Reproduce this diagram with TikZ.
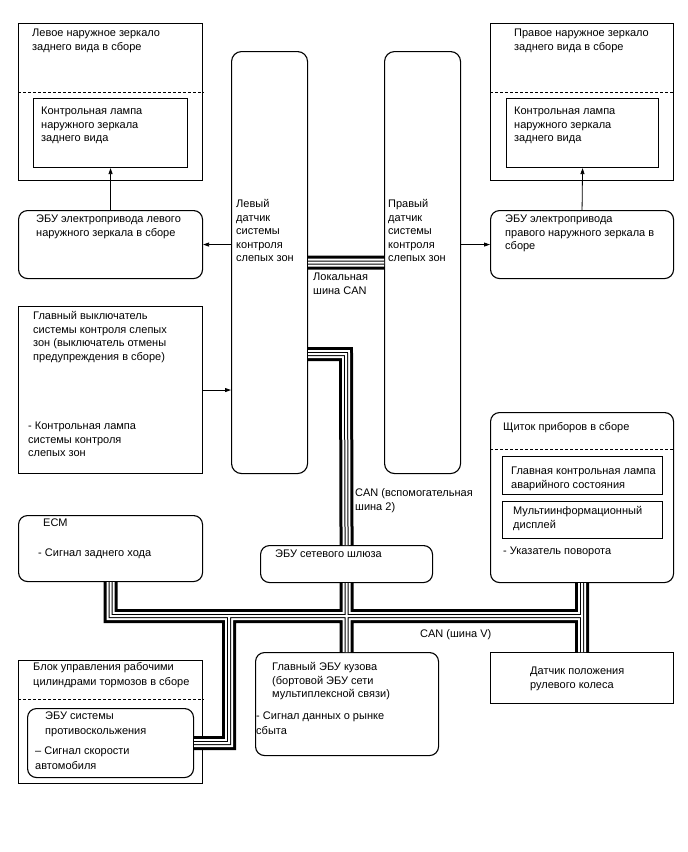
\documentclass[tikz,border=0pt]{standalone}
\usepackage{fontspec}
\setmainfont{Liberation Sans}
\usetikzlibrary{positioning,arrows.meta,calc}

\begin{document}
\begin{tikzpicture}[x=1pt,y=-1pt,
  box/.style={draw, line width=1.1pt, anchor=north west, inner sep=0pt},
  rbox/.style={box, rounded corners=9pt},
  txt/.style={anchor=north west, inner sep=0pt, align=left, font=\fontsize{11}{13.5}\selectfont},
  sep/.style={line width=0.6pt, dash pattern=on 3pt off 2pt},
  arr/.style={-{Triangle[length=6pt,width=4pt]}, line width=0.8pt}]
  \useasboundingbox (0,0) rectangle (688,852);

  \node[box, minimum width=184pt, minimum height=157pt] (lmir) at (18,23) {};
  \node[box, minimum width=154pt, minimum height=69pt] (llamp) at (33,98) {};
  \node[rbox, minimum width=184pt, minimum height=68pt] (lecu) at (18,210) {};
  \node[rbox, rounded corners=10pt, minimum width=76pt, minimum height=422pt] (lbsm) at (231,51) {};
  \node[rbox, rounded corners=10pt, minimum width=76pt, minimum height=422pt] (rbsm) at (384,51) {};
  \node[box, minimum width=183pt, minimum height=157pt] (rmir) at (490,23) {};
  \node[box, minimum width=152pt, minimum height=69pt] (rlamp) at (506,98) {};
  \node[rbox, minimum width=183pt, minimum height=68pt] (recu) at (490,210) {};
  \node[box, minimum width=184pt, minimum height=167pt] (msw) at (18,306) {};
  \node[rbox, minimum width=183pt, minimum height=170pt] (clu) at (490,412) {};
  \node[box, minimum width=160pt, minimum height=38pt] (cluA) at (502,456) {};
  \node[box, minimum width=160pt, minimum height=37pt] (cluB) at (502,501) {};
  \node[rbox, minimum width=184pt, minimum height=66pt] (ecm) at (18,515) {};
  \node[rbox, minimum width=172pt, minimum height=37pt] (gw) at (260,545) {};
  \node[box, minimum width=184pt, minimum height=123pt] (brk) at (18,660) {};
  \node[rbox, minimum width=166pt, minimum height=69pt] (abs) at (27,708) {};
  \node[rbox, minimum width=183pt, minimum height=103pt] (body) at (255,652) {};
  \node[box, minimum width=183pt, minimum height=51pt] (steer) at (490,652) {};

  \draw[sep] (lmir.west |- 0,92) -- (lmir.east |- 0,92);
  \draw[sep] (rmir.west |- 0,92) -- (rmir.east |- 0,92);
  \draw[sep] (clu.west |- 0,449) -- (clu.east |- 0,449);
  \draw[sep] (brk.west |- 0,699) -- (brk.east |- 0,699);

  \draw[arr] (lecu.north) -- (llamp.south);
  \draw[arr] (recu.north) -- (rlamp.south);
  \draw[arr] (lbsm.west |- lecu.east) -- (lecu.east);
  \draw[arr] (rbsm.east |- recu.west) -- (recu.west);
  \draw[arr] (msw.east) -- (lbsm.west |- msw.east);

  % CAN buses
  \coordinate (loc) at (0,262.5);
  \coordinate (aux) at (346,354);
  \coordinate (vb) at (0,616);
  \coordinate (brj) at (229,616);
  \def\canpaths{(lbsm.east |- loc) -- (rbsm.west |- loc)
    (lbsm.east |- aux) -- (aux) -- (gw.north)
    (gw.south) -- (gw.south |- body.north)
    (ecm.south) -- (ecm.south |- vb) -- (clu.south |- vb) -- (clu.south)
    (clu.south |- vb) -- (steer.north)
    (brj) |- (abs.east)}
  \foreach \w/\c in {14/black,8/white,4/black,2/white}
    \draw[line width=\w pt, \c, line join=miter] \canpaths;

  \node[txt] (lmirT) at (32,27) {\strut Левое наружное зеркало\\заднего вида в сборе};
  \node[txt] (llampT) at (41,105) {\strut Контрольная лампа\\наружного зеркала\\заднего вида};
  \node[txt] (lecuT) at (36,213) {\strut ЭБУ электропривода левого\\наружного зеркала в сборе};
  \node[txt] (lbsmT) at (236,198) {\strut Левый\\датчик\\системы\\контроля\\слепых зон};
  \node[txt] (rbsmT) at (388,198) {\strut Правый\\датчик\\системы\\контроля\\слепых зон};
  \node[txt] (rmirT) at (514,27) {\strut Правое наружное зеркало\\заднего вида в сборе};
  \node[txt] (rlampT) at (514,105) {\strut Контрольная лампа\\наружного зеркала\\заднего вида};
  \node[txt] (recuT) at (505,213) {\strut ЭБУ электропривода\\правого наружного зеркала в\\сборе};
  \node[txt] (locT) at (313,271) {\strut Локальная\\шина CAN};
  \node[txt] (mswT) at (33,310) {\strut Главный выключатель\\системы контроля слепых\\зон (выключатель отмены\\предупреждения в сборе)};
  \node[txt] (mswL) at (28,420) {\strut - Контрольная лампа\\системы контроля\\слепых зон};
  \node[txt] (cluT) at (503,421) {\strut Щиток приборов в сборе};
  \node[txt] (cluAT) at (511,465) {\strut Главная контрольная лампа\\аварийного состояния};
  \node[txt] (cluBT) at (513,505) {\strut Мультиинформационный\\дисплей};
  \node[txt] (cluL) at (503,545) {\strut - Указатель поворота};
  \node[txt] (auxT) at (355,487) {\strut CAN (вспомогательная\\шина 2)};
  \node[txt] (ecmT) at (43,517) {\strut ECM};
  \node[txt] (ecmL) at (38,547) {\strut - Сигнал заднего хода};
  \node[txt] (gwT) at (275,548) {\strut ЭБУ сетевого шлюза};
  \node[txt] (vbT) at (420,628) {\strut CAN (шина V)};
  \node[txt] (brkT) at (33,661) {\strut Блок управления рабочими\\[1.5pt]цилиндрами тормозов в сборе};
  \node[txt] (absT) at (45,710) {\strut ЭБУ системы\\[1.5pt]противоскольжения};
  \node[txt] (absL) at (35,745) {\strut – Сигнал скорости\\[1.5pt]автомобиля};
  \node[txt] (bodyT) at (272,661) {\strut Главный ЭБУ кузова\\(бортовой ЭБУ сети\\мультиплексной связи)};
  \node[txt] (bodyL) at (256,710) {\strut - Сигнал данных о рынке\\[1.5pt]сбыта};
  \node[txt] (steerT) at (530,665) {\strut Датчик положения\\рулевого колеса};
\end{tikzpicture}
\end{document}
